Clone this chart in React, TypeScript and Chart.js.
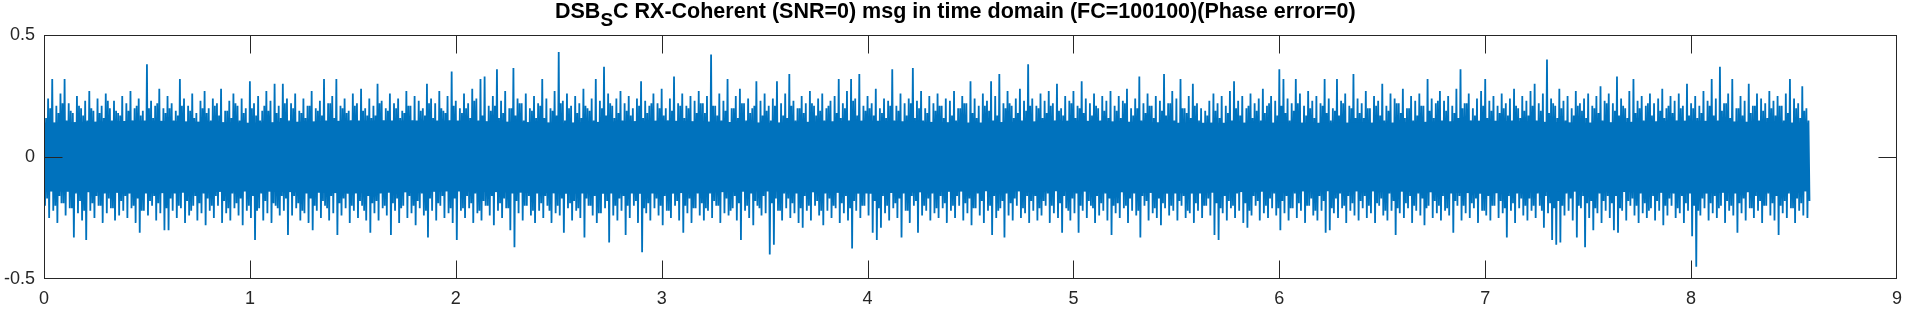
import React, { useEffect, useRef } from "react";
import { Chart, registerables } from "chart.js";

Chart.register(...registerables);

// ---- Axis ticks ----
const xTicks = [0, 1, 2, 3, 4, 5, 6, 7, 8, 9];
const yTicks = [-0.5, 0, 0.5];

// ---- Signal: spacing of the peak columns (seconds) ----
const sampleStep = 0.02;

// Tall upper peaks of the noisy message, one per column
const upperPeaks = [
  0.19,0.24,0.32,0.21,0.26,0.32,0.22,0.18,0.25,0.2,0.23,0.27,0.19,0.24,0.21,0.26,0.2,0.23,0.18,0.25,
  0.22,0.27,0.2,0.24,0.19,0.38,0.23,0.21,0.28,0.2,0.25,0.22,0.19,0.32,0.24,0.21,0.26,0.18,0.23,0.27,
  0.2,0.24,0.22,0.28,0.19,0.23,0.26,0.21,0.24,0.2,0.31,0.22,0.25,0.19,0.27,0.23,0.3,0.21,0.3,0.24,
  0.22,0.26,0.19,0.24,0.21,0.27,0.2,0.23,0.32,0.22,0.25,0.32,0.21,0.24,0.19,0.26,0.22,0.28,0.2,0.24,
  0.21,0.3,0.23,0.2,0.26,0.22,0.24,0.19,0.27,0.21,0.25,0.23,0.2,0.3,0.24,0.22,0.27,0.19,0.25,0.35,
  0.23,0.2,0.26,0.22,0.28,0.24,0.32,0.33,0.21,0.25,0.36,0.23,0.27,0.2,0.365,0.24,0.22,0.26,0.2,0.25,
  0.22,0.32,0.24,0.2,0.27,0.43,0.23,0.26,0.21,0.25,0.22,0.28,0.2,0.24,0.32,0.23,0.37,0.26,0.21,0.24,
  0.27,0.22,0.25,0.2,0.24,0.31,0.23,0.21,0.26,0.22,0.28,0.2,0.24,0.33,0.22,0.26,0.21,0.25,0.23,0.27,
  0.22,0.25,0.42,0.21,0.26,0.23,0.32,0.2,0.25,0.28,0.22,0.24,0.2,0.31,0.23,0.26,0.21,0.24,0.31,0.22,
  0.26,0.34,0.23,0.2,0.25,0.22,0.27,0.21,0.24,0.26,0.2,0.23,0.25,0.32,0.22,0.27,0.32,0.24,0.34,0.21,
  0.25,0.22,0.28,0.2,0.24,0.23,0.36,0.21,0.26,0.22,0.24,0.365,0.23,0.27,0.2,0.25,0.22,0.26,0.21,0.24,
  0.23,0.27,0.2,0.25,0.22,0.31,0.24,0.21,0.26,0.23,0.31,0.25,0.34,0.22,0.27,0.21,0.24,0.28,0.23,0.38,
  0.24,0.21,0.26,0.23,0.27,0.22,0.3,0.2,0.25,0.23,0.27,0.21,0.31,0.24,0.22,0.26,0.2,0.25,0.23,0.27,
  0.21,0.25,0.23,0.28,0.2,0.24,0.33,0.22,0.26,0.21,0.25,0.23,0.34,0.22,0.27,0.24,0.32,0.2,0.25,0.3,
  0.22,0.2,0.19,0.23,0.26,0.22,0.25,0.21,0.27,0.31,0.23,0.25,0.2,0.26,0.22,0.24,0.28,0.21,0.25,0.23,
  0.36,0.32,0.24,0.22,0.32,0.26,0.21,0.27,0.23,0.25,0.22,0.32,0.24,0.2,0.32,0.23,0.26,0.21,0.34,0.24,
  0.22,0.27,0.2,0.25,0.23,0.3,0.21,0.26,0.24,0.22,0.28,0.2,0.25,0.23,0.26,0.21,0.32,0.24,0.22,0.27,
  0.23,0.25,0.21,0.28,0.36,0.22,0.26,0.2,0.24,0.27,0.32,0.23,0.25,0.21,0.26,0.22,0.24,0.28,0.2,0.25,
  0.23,0.27,0.3,0.22,0.26,0.4,0.24,0.21,0.28,0.23,0.25,0.2,0.27,0.22,0.24,0.26,0.21,0.25,0.29,0.23,
  0.26,0.22,0.33,0.24,0.2,0.27,0.32,0.23,0.25,0.21,0.26,0.22,0.24,0.28,0.2,0.25,0.23,0.26,0.21,0.3,
  0.22,0.25,0.21,0.27,0.23,0.32,0.24,0.37,0.22,0.26,0.32,0.2,0.25,0.23,0.3,0.21,0.26,0.24,0.22,0.27,
  0.23,0.25,0.21,0.26,0.32,0.24,0.22,0.29,0.2,
];

// Tall lower peaks of the noisy message, one per column
const lowerPeaks = [
  -0.2,-0.25,-0.22,-0.27,-0.19,-0.24,-0.21,-0.33,-0.23,-0.26,-0.34,-0.22,-0.25,-0.2,-0.27,-0.23,-0.21,-0.26,-0.24,-0.22,
  -0.25,-0.21,-0.27,-0.31,-0.22,-0.24,-0.2,-0.26,-0.23,-0.3,-0.3,-0.22,-0.25,-0.21,-0.27,-0.24,-0.2,-0.26,-0.23,-0.28,
  -0.22,-0.25,-0.2,-0.27,-0.23,-0.26,-0.21,-0.24,-0.28,-0.22,-0.25,-0.34,-0.21,-0.26,-0.23,-0.27,-0.2,-0.24,-0.22,-0.32,
  -0.24,-0.21,-0.26,-0.23,-0.27,-0.3,-0.22,-0.25,-0.2,-0.26,-0.23,-0.32,-0.24,-0.21,-0.27,-0.22,-0.25,-0.2,-0.26,-0.31,
  -0.23,-0.26,-0.21,-0.24,-0.32,-0.22,-0.27,-0.2,-0.25,-0.23,-0.28,-0.21,-0.24,-0.33,-0.22,-0.26,-0.2,-0.25,-0.23,-0.27,
  -0.34,-0.22,-0.25,-0.21,-0.27,-0.23,-0.26,-0.2,-0.24,-0.28,-0.22,-0.25,-0.21,-0.3,-0.37,-0.23,-0.26,-0.2,-0.24,-0.27,
  -0.22,-0.25,-0.2,-0.27,-0.23,-0.24,-0.31,-0.21,-0.26,-0.22,-0.25,-0.33,-0.2,-0.24,-0.27,-0.23,-0.21,-0.35,-0.24,-0.26,
  -0.22,-0.32,-0.25,-0.2,-0.27,-0.39,-0.23,-0.26,-0.21,-0.24,-0.28,-0.22,-0.25,-0.2,-0.26,-0.31,-0.23,-0.27,-0.21,-0.24,
  -0.26,-0.22,-0.25,-0.2,-0.27,-0.23,-0.24,-0.21,-0.26,-0.34,-0.22,-0.25,-0.28,-0.2,-0.24,-0.23,-0.4,-0.36,-0.22,-0.26,
  -0.21,-0.25,-0.23,-0.27,-0.29,-0.22,-0.26,-0.2,-0.24,-0.28,-0.22,-0.25,-0.21,-0.27,-0.23,-0.26,-0.375,-0.22,-0.25,-0.2,
  -0.24,-0.31,-0.34,-0.29,-0.23,-0.26,-0.21,-0.25,-0.33,-0.22,-0.27,-0.2,-0.31,-0.24,-0.22,-0.26,-0.23,-0.25,-0.21,-0.27,
  -0.22,-0.25,-0.2,-0.26,-0.23,-0.28,-0.21,-0.24,-0.27,-0.22,-0.32,-0.25,-0.21,-0.33,-0.24,-0.26,-0.2,-0.25,-0.23,-0.27,
  -0.22,-0.26,-0.24,-0.2,-0.27,-0.23,-0.25,-0.31,-0.21,-0.26,-0.23,-0.31,-0.22,-0.25,-0.2,-0.27,-0.24,-0.22,-0.26,-0.32,
  -0.23,-0.25,-0.21,-0.27,-0.22,-0.24,-0.33,-0.2,-0.26,-0.23,-0.25,-0.28,-0.21,-0.24,-0.22,-0.26,-0.2,-0.25,-0.23,-0.27,
  -0.22,-0.25,-0.2,-0.24,-0.32,-0.34,-0.23,-0.26,-0.21,-0.25,-0.22,-0.27,-0.29,-0.24,-0.2,-0.26,-0.23,-0.25,-0.21,-0.24,
  -0.3,-0.23,-0.26,-0.21,-0.25,-0.22,-0.27,-0.2,-0.24,-0.26,-0.22,-0.31,-0.3,-0.23,-0.25,-0.21,-0.27,-0.22,-0.24,-0.26,
  -0.21,-0.25,-0.23,-0.27,-0.2,-0.24,-0.26,-0.22,-0.32,-0.23,-0.25,-0.21,-0.27,-0.22,-0.24,-0.28,-0.2,-0.25,-0.23,-0.26,
  -0.22,-0.24,-0.31,-0.2,-0.26,-0.23,-0.25,-0.21,-0.27,-0.22,-0.24,-0.26,-0.2,-0.25,-0.23,-0.33,-0.22,-0.27,-0.21,-0.24,
  -0.26,-0.22,-0.25,-0.2,-0.29,-0.23,-0.34,-0.36,-0.35,-0.24,-0.22,-0.26,-0.33,-0.21,-0.37,-0.25,-0.3,-0.23,-0.27,-0.22,
  -0.25,-0.3,-0.31,-0.22,-0.26,-0.2,-0.24,-0.27,-0.23,-0.25,-0.21,-0.26,-0.22,-0.28,-0.24,-0.2,-0.25,-0.23,-0.27,-0.22,
  -0.325,-0.45,-0.24,-0.21,-0.26,-0.23,-0.25,-0.2,-0.27,-0.22,-0.24,-0.31,-0.23,-0.26,-0.21,-0.25,-0.22,-0.27,-0.2,-0.24,
  -0.26,-0.32,-0.23,-0.25,-0.21,-0.27,-0.22,-0.24,-0.25,
];

// Medium upper swings between the tall peaks (dense ragged edge of the band)
const midUpper = [
  0.16,0.2,0.14,0.18,0.22,0.15,0.19,0.13,0.21,0.17,0.15,0.2,0.14,0.18,0.16,0.23,0.15,0.19,0.17,0.14,
  0.19,0.15,0.21,0.17,0.13,0.2,0.16,0.22,0.14,0.18,0.2,0.15,0.17,0.21,0.14,0.19,0.16,0.13,0.2,0.18,
  0.15,0.21,0.17,0.14,0.19,0.16,0.22,0.15,0.18,0.13,0.2,0.17,0.15,0.21,0.19,0.14,0.18,0.16,0.22,0.15,
  0.2,0.14,0.18,0.16,0.21,0.13,0.19,0.17,0.15,0.22,0.16,0.14,0.2,0.18,0.15,0.21,0.13,0.19,0.17,0.16,
  0.17,0.22,0.15,0.19,0.14,0.2,0.16,0.18,0.21,0.15,0.13,0.19,0.17,0.22,0.16,0.14,0.2,0.18,0.15,0.21,
  0.14,0.18,0.2,0.16,0.23,0.15,0.17,0.13,0.19,0.21,0.16,0.18,0.14,0.2,0.17,0.22,0.15,0.13,0.19,0.16,
  0.21,0.16,0.14,0.19,0.17,0.22,0.15,0.2,0.13,0.18,0.16,0.21,0.19,0.15,0.14,0.2,0.17,0.22,0.16,0.18,
  0.15,0.19,0.17,0.13,0.21,0.16,0.18,0.22,0.14,0.2,0.17,0.15,0.19,0.13,0.21,0.16,0.2,0.14,0.18,0.22,
  0.18,0.14,0.21,0.17,0.15,0.19,0.13,0.2,0.16,0.22,0.15,0.18,0.21,0.14,0.17,0.19,0.15,0.21,0.13,0.17,
  0.16,0.21,0.15,0.2,0.18,0.14,0.22,0.17,0.19,0.15,0.21,0.13,0.18,0.16,0.2,0.15,0.23,0.17,0.14,0.19,
  0.2,0.17,0.13,0.18,0.16,0.21,0.15,0.19,0.14,0.17,0.22,0.16,0.2,0.15,0.18,0.13,0.19,0.21,0.16,0.14,
  0.17,0.15,0.2,0.22,0.14,0.18,0.16,0.13,0.21,0.19,0.15,0.17,0.14,0.2,0.22,0.16,0.18,0.15,0.19,0.21,
  0.14,0.2,0.16,0.18,0.21,0.15,0.19,0.17,0.13,0.22,0.16,0.2,0.18,0.14,0.17,0.21,0.15,0.19,0.16,0.13,
  0.19,0.16,0.22,0.14,0.17,0.2,0.15,0.18,0.21,0.16,0.14,0.19,0.17,0.22,0.15,0.13,0.2,0.18,0.16,0.21,
  0.15,0.13,0.17,0.14,0.19,0.16,0.13,0.18,0.15,0.2,0.17,0.14,0.21,0.16,0.19,0.15,0.18,0.22,0.14,0.17,
  0.21,0.18,0.15,0.19,0.22,0.14,0.17,0.2,0.16,0.13,0.21,0.18,0.15,0.19,0.17,0.22,0.14,0.2,0.16,0.18,
  0.16,0.2,0.14,0.21,0.17,0.15,0.19,0.13,0.22,0.18,0.16,0.2,0.15,0.17,0.21,0.14,0.19,0.16,0.23,0.15,
  0.19,0.14,0.18,0.16,0.2,0.22,0.15,0.17,0.13,0.21,0.16,0.19,0.14,0.18,0.2,0.17,0.15,0.21,0.16,0.19,
  0.17,0.21,0.15,0.19,0.14,0.18,0.22,0.16,0.2,0.15,0.13,0.17,0.21,0.19,0.16,0.14,0.2,0.18,0.15,0.22,
  0.14,0.19,0.17,0.21,0.16,0.13,0.18,0.2,0.15,0.22,0.17,0.14,0.19,0.16,0.21,0.18,0.15,0.2,0.13,0.17,
  0.2,0.16,0.18,0.14,0.21,0.17,0.15,0.19,0.22,0.16,0.14,0.2,0.17,0.13,0.18,0.21,0.15,0.19,0.16,0.2,
  0.17,0.21,0.15,0.18,0.14,0.2,0.16,0.19,0.15,
];

// Medium lower swings between the tall peaks
const midLower = [
  -0.17,-0.14,-0.2,-0.16,-0.19,-0.13,-0.21,-0.15,-0.18,-0.22,-0.14,-0.19,-0.16,-0.2,-0.15,-0.17,-0.21,-0.13,-0.18,-0.16,
  -0.15,-0.2,-0.17,-0.22,-0.14,-0.18,-0.16,-0.19,-0.13,-0.21,-0.17,-0.15,-0.2,-0.14,-0.18,-0.22,-0.16,-0.19,-0.15,-0.17,
  -0.2,-0.16,-0.13,-0.18,-0.21,-0.15,-0.19,-0.17,-0.14,-0.2,-0.16,-0.22,-0.15,-0.18,-0.13,-0.19,-0.21,-0.16,-0.17,-0.14,
  -0.16,-0.19,-0.22,-0.15,-0.17,-0.2,-0.14,-0.18,-0.21,-0.16,-0.13,-0.19,-0.17,-0.15,-0.2,-0.14,-0.18,-0.22,-0.16,-0.19,
  -0.18,-0.15,-0.2,-0.13,-0.19,-0.17,-0.21,-0.14,-0.16,-0.2,-0.18,-0.15,-0.22,-0.17,-0.14,-0.19,-0.16,-0.13,-0.21,-0.17,
  -0.14,-0.21,-0.16,-0.19,-0.15,-0.22,-0.18,-0.2,-0.16,-0.13,-0.19,-0.17,-0.21,-0.15,-0.18,-0.14,-0.2,-0.16,-0.22,-0.15,
  -0.19,-0.16,-0.22,-0.14,-0.2,-0.17,-0.15,-0.19,-0.18,-0.21,-0.13,-0.17,-0.2,-0.16,-0.23,-0.15,-0.18,-0.14,-0.2,-0.17,
  -0.16,-0.2,-0.14,-0.18,-0.15,-0.21,-0.19,-0.13,-0.17,-0.2,-0.16,-0.22,-0.15,-0.18,-0.14,-0.2,-0.17,-0.21,-0.15,-0.19,
  -0.21,-0.15,-0.18,-0.2,-0.14,-0.17,-0.22,-0.16,-0.19,-0.13,-0.2,-0.15,-0.18,-0.21,-0.16,-0.14,-0.19,-0.17,-0.22,-0.15,
  -0.17,-0.19,-0.15,-0.21,-0.16,-0.2,-0.13,-0.18,-0.22,-0.15,-0.17,-0.2,-0.14,-0.19,-0.16,-0.21,-0.18,-0.15,-0.2,-0.14,
  -0.15,-0.18,-0.21,-0.16,-0.2,-0.14,-0.19,-0.17,-0.15,-0.22,-0.16,-0.18,-0.13,-0.2,-0.17,-0.15,-0.21,-0.16,-0.19,-0.14,
  -0.2,-0.16,-0.14,-0.19,-0.17,-0.21,-0.15,-0.18,-0.13,-0.2,-0.16,-0.22,-0.18,-0.15,-0.19,-0.17,-0.14,-0.21,-0.16,-0.18,
  -0.16,-0.21,-0.18,-0.15,-0.2,-0.13,-0.19,-0.16,-0.22,-0.17,-0.15,-0.2,-0.14,-0.18,-0.21,-0.16,-0.19,-0.15,-0.17,-0.2,
  -0.19,-0.14,-0.2,-0.17,-0.15,-0.22,-0.16,-0.18,-0.14,-0.21,-0.17,-0.19,-0.15,-0.2,-0.13,-0.18,-0.16,-0.22,-0.15,-0.19,
  -0.15,-0.2,-0.17,-0.14,-0.19,-0.21,-0.16,-0.18,-0.2,-0.15,-0.13,-0.19,-0.22,-0.16,-0.18,-0.14,-0.2,-0.17,-0.15,-0.21,
  -0.18,-0.16,-0.21,-0.15,-0.19,-0.14,-0.2,-0.17,-0.22,-0.16,-0.18,-0.13,-0.21,-0.17,-0.15,-0.2,-0.16,-0.19,-0.14,-0.18,
  -0.16,-0.2,-0.14,-0.19,-0.17,-0.22,-0.15,-0.18,-0.21,-0.13,-0.19,-0.16,-0.2,-0.15,-0.17,-0.21,-0.14,-0.18,-0.2,-0.16,
  -0.21,-0.15,-0.18,-0.16,-0.2,-0.14,-0.19,-0.17,-0.15,-0.22,-0.16,-0.2,-0.13,-0.18,-0.21,-0.16,-0.19,-0.15,-0.17,-0.2,
  -0.17,-0.2,-0.15,-0.22,-0.16,-0.19,-0.21,-0.18,-0.2,-0.15,-0.17,-0.14,-0.2,-0.16,-0.19,-0.18,-0.21,-0.15,-0.18,-0.16,
  -0.19,-0.16,-0.21,-0.14,-0.18,-0.17,-0.2,-0.15,-0.19,-0.22,-0.16,-0.18,-0.14,-0.2,-0.17,-0.15,-0.21,-0.16,-0.19,-0.14,
  -0.2,-0.22,-0.17,-0.15,-0.19,-0.16,-0.21,-0.14,-0.18,-0.2,-0.15,-0.19,-0.17,-0.13,-0.21,-0.16,-0.18,-0.2,-0.15,-0.19,
  -0.16,-0.2,-0.18,-0.15,-0.21,-0.17,-0.19,-0.14,-0.18,
];

// Dense (solid) core of the noise band
const coreX = [0, 0.5, 1, 1.5, 2, 2.5, 3, 3.5, 4, 4.5, 5, 5.5, 6, 6.5, 7, 7.5, 8, 8.5, 8.57];
const coreUpper = [0.14,0.15,0.14,0.15,0.15,0.14,0.15,0.14,0.15,0.14,0.15,0.14,0.14,0.14,0.15,0.14,0.15,0.14,0.14];
const coreLower = [-0.14,-0.15,-0.14,-0.15,-0.14,-0.15,-0.15,-0.14,-0.15,-0.14,-0.14,-0.15,-0.14,-0.14,-0.15,-0.14,-0.15,-0.14,-0.14];

const LINE_BLUE = "#0072BD";
const AXIS_COLOR = "#262626";
const FONT = '"Liberation Sans", Arial, Helvetica, sans-serif';
const TICK_LEN = 18;

const boxPlugin = {
  id: "matlabBox",
  afterDatasetsDraw(chart: any) {
    const { ctx, chartArea: a, scales } = chart;
    const xs = scales.x;
    const ys = scales.y;
    const L = a.left + 0.5;
    const R = a.right - 0.5;
    const T = a.top + 0.5;
    const B = a.bottom - 0.5;
    ctx.save();
    ctx.strokeStyle = AXIS_COLOR;
    ctx.lineWidth = 1;
    ctx.strokeRect(L, T, R - L, B - T);
    ctx.beginPath();
    xTicks.forEach((v) => {
      const px = Math.round(xs.getPixelForValue(v)) + 0.5;
      if (px > L + 1 && px < R - 1) {
        ctx.moveTo(px, T);
        ctx.lineTo(px, T + TICK_LEN);
        ctx.moveTo(px, B);
        ctx.lineTo(px, B - TICK_LEN);
      }
    });
    yTicks.forEach((v) => {
      const py = Math.round(ys.getPixelForValue(v)) + 0.5;
      if (py > T + 1 && py < B - 1) {
        ctx.moveTo(L, py);
        ctx.lineTo(L + TICK_LEN, py);
        ctx.moveTo(R, py);
        ctx.lineTo(R - TICK_LEN, py);
      }
    });
    ctx.stroke();
    ctx.restore();
  },
};

export default function App() {
  const canvasRef = useRef<HTMLCanvasElement | null>(null);

  useEffect(() => {
    const canvas = canvasRef.current;
    if (!canvas) return;

    const q = sampleStep / 4;
    const signal: { x: number; y: number }[] = [];
    for (let i = 0; i < upperPeaks.length; i++) {
      const t = i * sampleStep;
      signal.push({ x: t, y: upperPeaks[i] });
      signal.push({ x: t + q, y: lowerPeaks[i] });
      signal.push({ x: t + 2 * q, y: midUpper[i] });
      signal.push({ x: t + 3 * q, y: midLower[i] });
    }
    const coreTop = coreX.map((x, i) => ({ x, y: coreUpper[i] }));
    const coreBottom = coreX.map((x, i) => ({ x, y: coreLower[i] }));

    const chart = new Chart(canvas, {
      type: "line",
      data: {
        datasets: [
          {
            data: coreTop,
            borderWidth: 0,
            borderColor: LINE_BLUE,
            backgroundColor: LINE_BLUE,
            pointRadius: 0,
            fill: "+1",
          },
          {
            data: coreBottom,
            borderWidth: 0,
            borderColor: LINE_BLUE,
            pointRadius: 0,
            fill: false,
          },
          {
            data: signal,
            borderColor: LINE_BLUE,
            borderWidth: 1.8,
            borderJoinStyle: "bevel",
            pointRadius: 0,
            fill: false,
            tension: 0,
          },
        ],
      },
      options: {
        animation: false,
        responsive: false,
        devicePixelRatio: 1,
        parsing: false,
        normalized: true,
        events: [],
        layout: { padding: { left: 0, right: 8, top: 35, bottom: 0 } },
        plugins: {
          legend: { display: false },
          title: { display: false },
          tooltip: { enabled: false },
        },
        scales: {
          x: {
            type: "linear",
            min: 0,
            max: 9,
            grid: { display: false, drawTicks: false },
            border: { display: false },
            afterBuildTicks: (s: any) => {
              s.ticks = xTicks.map((v) => ({ value: v }));
            },
            afterFit: (s: any) => {
              s.height = 30;
            },
            ticks: {
              color: AXIS_COLOR,
              padding: 9,
              maxRotation: 0,
              autoSkip: false,
              font: { family: FONT, size: 18 },
            },
          },
          y: {
            type: "linear",
            min: -0.5,
            max: 0.5,
            grid: { display: false, drawTicks: false },
            border: { display: false },
            afterBuildTicks: (s: any) => {
              s.ticks = yTicks.map((v) => ({ value: v }));
            },
            afterFit: (s: any) => {
              s.width = 44;
            },
            ticks: {
              color: AXIS_COLOR,
              padding: 9,
              autoSkip: false,
              font: { family: FONT, size: 18 },
              callback: (v: any) => String(v),
            },
          },
        },
      },
      plugins: [boxPlugin],
    });

    return () => chart.destroy();
  }, []);

  return (
    <div
      style={{
        position: "absolute",
        left: 0,
        top: 0,
        width: 1911,
        height: 309,
        background: "#ffffff",
        overflow: "hidden",
      }}
    >
      <canvas
        ref={canvasRef}
        width={1911}
        height={309}
        style={{ position: "absolute", left: 0, top: 0, width: 1911, height: 309 }}
      />
      <div
        style={{
          position: "absolute",
          left: 555,
          top: 1,
          font: `bold 21.5px ${FONT}`,
          lineHeight: "21px",
          whiteSpace: "nowrap",
          color: "#000000",
        }}
      >
        DSB
        <sub style={{ fontSize: "0.88em", verticalAlign: "-8px", lineHeight: 0 }}>S</sub>
        C RX-Coherent (SNR=0) msg in time domain (FC=100100)(Phase error=0)
      </div>
    </div>
  );
}
